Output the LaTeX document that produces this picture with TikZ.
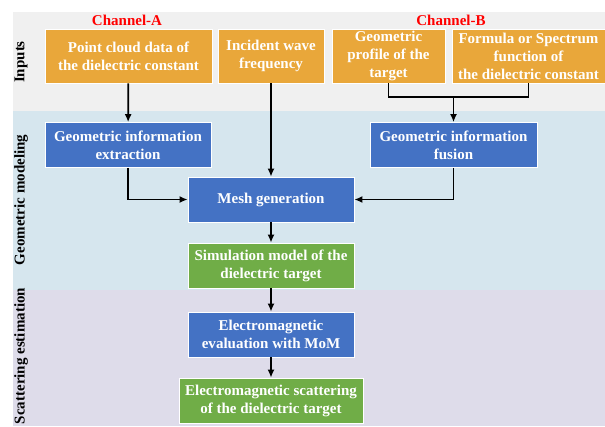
\documentclass[tikz,border=0pt]{standalone}
\usepackage{fontspec}
\setmainfont{Liberation Serif}
\usetikzlibrary{arrows.meta}

\definecolor{inputgray}{RGB}{240,240,240}
\definecolor{geoblue}{RGB}{214,230,238}
\definecolor{scatlilac}{RGB}{222,220,234}
\definecolor{boxorange}{RGB}{233,167,58}
\definecolor{boxblue}{RGB}{68,114,196}
\definecolor{boxgreen}{RGB}{112,173,71}

\begin{document}
\begin{tikzpicture}[x=1pt,y=-1pt]
\tikzset{flow/.style={draw=black,-{Latex[length=8pt,width=7pt]},line width=1.7pt}}
\tikzset{box/.style={draw=white,line width=0.7pt,text=white,align=center,inner sep=0pt,font=\fontsize{15}{18}\selectfont\bfseries}}
\tikzset{orangebox/.style={box,fill=boxorange,minimum height=54pt}}
\tikzset{bluebox/.style={box,fill=boxblue,minimum height=45pt}}
\tikzset{greenbox/.style={box,fill=boxgreen,minimum height=45pt}}
\tikzset{rowlabel/.style={rotate=90,font=\fontsize{15}{18}\selectfont\bfseries}}
\tikzset{channel/.style={text=red,font=\fontsize{15}{18}\selectfont\bfseries}}

\useasboundingbox (0,0) rectangle (605,426);

% bands
\path[fill=inputgray] (13,12) rectangle (605,111);
\path[fill=geoblue] (13,111) rectangle (605,290);
\path[fill=scatlilac] (13,290) rectangle (605,426);

\node[rowlabel] (lblinputs) at (21,62) {Inputs};
\node[rowlabel] (lblgeo) at (21,200) {Geometric modeling};
\node[rowlabel] (lblscat) at (21,356) {Scattering estimation};

\node[channel] (chana) at (127,20) {Channel-A};
\node[channel] (chanb) at (451,20) {Channel-B};

% inputs
\node[orangebox,minimum width=167pt] (pointcloud) at (128.5,56) {Point cloud data of\\the dielectric constant};
\node[orangebox,minimum width=106pt] (incident) at (271,56) {Incident wave\\frequency};
\node[orangebox,minimum width=113pt] (profile) at (388.5,56) {Geometric\\profile of the\\target};
\node[orangebox,minimum width=153pt] (formula) at (528.5,56) {Formula or Spectrum\\function of\\the dielectric constant};

% geometric modeling
\node[bluebox,minimum width=166pt] (extract) at (128,145) {Geometric information\\extraction};
\node[bluebox,minimum width=167pt] (fusion) at (453.5,145) {Geometric information\\fusion};
\node[bluebox,minimum width=166pt] (mesh) at (271,199.5) {Mesh generation};
\node[greenbox,minimum width=166pt] (simmodel) at (271,265.5) {Simulation model of the\\dielectric target};

% scattering estimation
\node[bluebox,minimum width=166pt] (emeval) at (271,334.5) {Electromagnetic\\evaluation with MoM};
\node[greenbox,minimum width=184pt] (emscat) at (271,400.5) {Electromagnetic scattering\\of the dielectric target};

\coordinate (join) at (453.5,97);

\path[flow] (pointcloud) -- (extract);
\path[flow] (incident) -- (mesh);
\path[draw,line width=1.7pt] (profile.south) |- (join) -| (formula.south);
\path[flow] (join) -- (fusion);
\path[flow] (extract.south) |- (mesh.west);
\path[flow] (fusion.south) |- (mesh.east);
\path[flow] (mesh) -- (simmodel);
\path[flow] (simmodel) -- (emeval);
\path[flow] (emeval) -- (emscat);
\end{tikzpicture}
\end{document}
